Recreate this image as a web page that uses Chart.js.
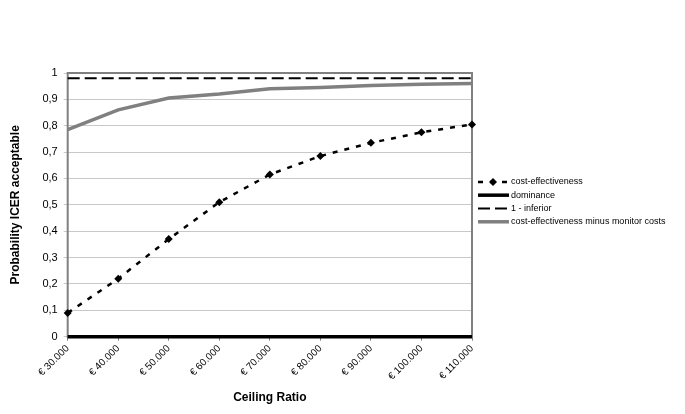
<!DOCTYPE html>
<html>
<head>
<meta charset="utf-8">
<script src="https://cdn.jsdelivr.net/npm/chart.js@4/dist/chart.umd.min.js"></script>
<style>
  body { margin: 0; background: #fff; }
  #wrap { width: 685px; height: 414px; }
</style>
</head>
<body>
<div id="wrap"><canvas id="myChart"></canvas></div>
<script>
// ceiling ratios (x axis)
var labels = ['€ 30.000', '€ 40.000', '€ 50.000', '€ 60.000', '€ 70.000', '€ 80.000', '€ 90.000', '€ 100.000', '€ 110.000'];

// series
var costEffectiveness = [0.09, 0.22, 0.37, 0.51, 0.615, 0.685, 0.735, 0.775, 0.805];
var dominance = [0, 0, 0, 0, 0, 0, 0, 0, 0];
var oneMinusInferior = [0.98, 0.98, 0.98, 0.98, 0.98, 0.98, 0.98, 0.98, 0.98];
var minusMonitorCosts = [0.785, 0.86, 0.905, 0.92, 0.94, 0.945, 0.953, 0.957, 0.96];

var font = 'Liberation Sans, Arial, sans-serif';

// grey frame round the plot area, like excel
var plotBorder = {
    id: 'plotBorder',
    beforeDatasetsDraw: function (chart) {
        var a = chart.chartArea, ctx = chart.ctx;
        ctx.save();
        ctx.strokeStyle = '#808080';
        ctx.lineWidth = 2;
        ctx.strokeRect(a.left, a.top, a.right - a.left, a.bottom - a.top);
        ctx.restore();
    }
};

// excel style legend on the right (built-in one can't do dash + marker samples)
var sideLegend = {
    id: 'sideLegend',
    afterDraw: function (chart) {
        var a = chart.chartArea, ctx = chart.ctx;
        var x0 = a.right + 6, x1 = x0 + 31;
        var rowH = 13.3;
        var sets = chart.data.datasets;
        var y = (a.top + a.bottom) / 2 - 3 - rowH * (sets.length - 1) / 2;
        ctx.save();
        ctx.font = '9px ' + font;
        ctx.textBaseline = 'middle';
        sets.forEach(function (ds, i) {
            var yy = y + i * rowH;
            ctx.strokeStyle = ds.borderColor;
            ctx.lineWidth = ds.borderWidth;
            ctx.setLineDash(ds.borderDash || []);
            ctx.beginPath();
            ctx.moveTo(x0, yy);
            ctx.lineTo(x1, yy);
            ctx.stroke();
            ctx.setLineDash([]);
            if (ds.pointRadius) {
                var cx = x0 + 15, r = ds.pointRadius;
                ctx.fillStyle = ds.backgroundColor;
                ctx.beginPath();
                ctx.moveTo(cx, yy - r);
                ctx.lineTo(cx + r, yy);
                ctx.lineTo(cx, yy + r);
                ctx.lineTo(cx - r, yy);
                ctx.closePath();
                ctx.fill();
            }
            ctx.fillStyle = '#000';
            ctx.fillText(ds.label, x1 + 2, yy);
        });
        ctx.restore();
    }
};

var ctx = document.getElementById('myChart').getContext('2d');
var chart = new Chart(ctx, {
    type: 'line',
    data: {
        labels: labels,
        datasets: [{
            label: 'cost-effectiveness',
            data: costEffectiveness,
            borderColor: '#000',
            backgroundColor: '#000',
            borderWidth: 2.5,
            borderDash: [5, 7],
            pointStyle: 'rectRot',
            pointRadius: 4,
            pointBorderWidth: 0,
            fill: false,
            clip: false
        }, {
            label: 'dominance',
            data: dominance,
            borderColor: '#000',
            backgroundColor: '#000',
            borderWidth: 3.5,
            pointRadius: 0,
            fill: false,
            clip: false
        }, {
            label: '1 - inferior',
            data: oneMinusInferior,
            borderColor: '#000',
            backgroundColor: '#000',
            borderWidth: 2,
            borderDash: [12, 5],
            pointRadius: 0,
            fill: false,
            clip: false
        }, {
            label: 'cost-effectiveness minus monitor costs',
            data: minusMonitorCosts,
            borderColor: '#808080',
            backgroundColor: '#808080',
            borderWidth: 3.5,
            pointRadius: 0,
            fill: false,
            clip: false
        }]
    },
    options: {
        responsive: true,
        maintainAspectRatio: false,
        animation: false,
        layout: { padding: { top: 73, left: 8, right: 213, bottom: 9 } },
        plugins: {
            legend: { display: false },
            tooltip: { enabled: false }
        },
        scales: {
            x: {
                offset: false,
                grid: { drawOnChartArea: false, drawTicks: true, tickLength: 4, color: '#808080' },
                border: { display: false },
                ticks: {
                    color: '#000',
                    minRotation: 45,
                    maxRotation: 45,
                    autoSkip: false,
                    padding: 2,
                    font: { family: font, size: 10 }
                },
                title: {
                    display: true,
                    text: 'Ceiling Ratio',
                    color: '#000',
                    padding: { top: 6, bottom: 0 },
                    font: { family: font, size: 12, weight: 'bold' }
                }
            },
            y: {
                min: 0,
                max: 1,
                grid: { color: '#c8c8c8', tickLength: 4 },
                border: { display: false },
                ticks: {
                    stepSize: 0.1,
                    color: '#000',
                    padding: 6,
                    font: { family: font, size: 11 },
                    callback: function (v) { return String(Math.round(v * 10) / 10).replace('.', ','); }
                },
                title: {
                    display: true,
                    text: 'Probability ICER acceptable',
                    color: '#000',
                    padding: { top: 0, bottom: 14 },
                    font: { family: font, size: 12, weight: 'bold' }
                }
            }
        }
    },
    plugins: [plotBorder, sideLegend]
});
</script>
</body>
</html>
